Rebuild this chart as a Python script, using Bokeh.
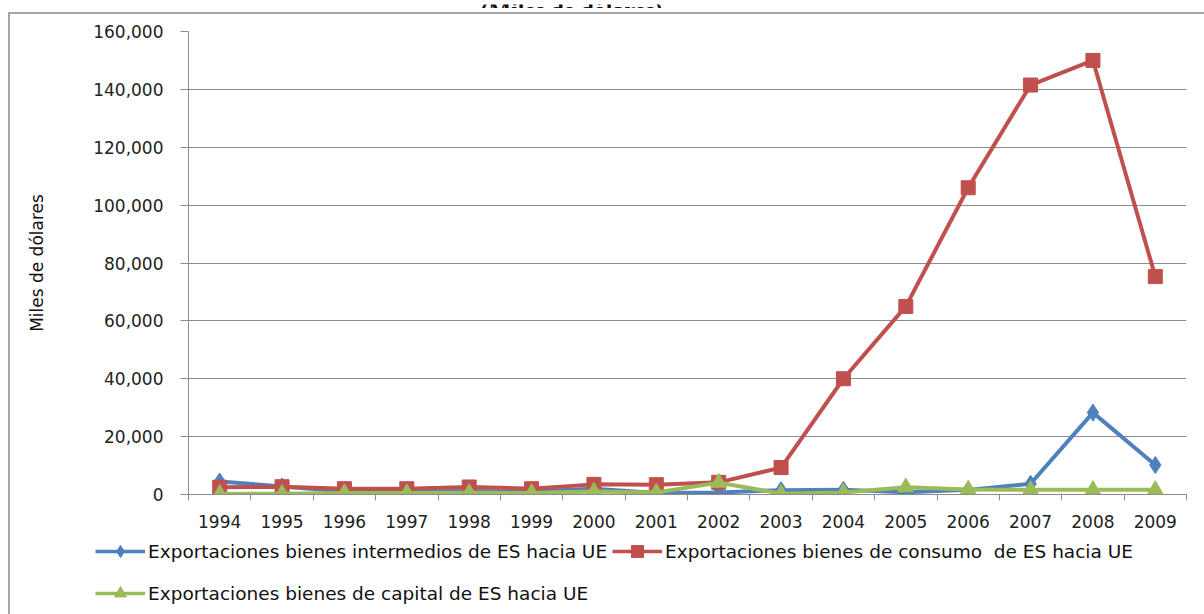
from bokeh.plotting import figure
from bokeh.layouts import column
from bokeh.models import (FixedTicker, NumeralTickFormatter, Legend, LegendItem,
                          Range1d, Label, InlineStyleSheet)
from bokeh.embed import file_html
from bokeh.resources import INLINE

years = list(range(1994, 2010))

intermedios = [4500, 2800, 1000, 1000, 1200, 1000, 2000, 500,
               700, 1500, 1600, 800, 1600, 3700, 28300, 10200]
consumo = [2500, 2700, 2000, 2000, 2600, 2000, 3500, 3400,
           4200, 9300, 40000, 65000, 106000, 141500, 150000, 75300]
capital = [200, 300, 500, 500, 600, 500, 1000, 700,
           4100, 300, 700, 2500, 1700, 1600, 1600, 1600]

y_ticks = [0, 20000, 40000, 60000, 80000, 100000, 120000, 140000, 160000]
legend_labels = [
    "Exportaciones bienes intermedios de ES hacia UE",
    "Exportaciones bienes de consumo  de ES hacia UE",
    "Exportaciones bienes de capital de ES hacia UE",
]
y_title = "Miles de dólares"
subtitle = "(Miles de dólares)"

BLUE, RED, GREEN = "#4F81BD", "#C0504D", "#9BBB59"
FONT = "DejaVu Sans"
GRID = "#8c8c8c"


def bare(height):
    """A figure whose frame fills the whole canvas, without axes or grids."""
    f = figure(width=1204, height=height, output_backend="svg", toolbar_location=None,
               x_range=Range1d(0, 1), y_range=Range1d(0, 1),
               x_axis_location=None, y_axis_location=None,
               min_border=0, min_border_left=0, min_border_right=0,
               min_border_top=0, min_border_bottom=0, frame_align=False)
    f.outline_line_color = None
    f.xgrid.visible = False
    f.ygrid.visible = False
    return f


# strip on top: subtitle, cut off at the page edge
top = bare(8)
top.add_layout(Label(x=480, y=3, x_units="screen", y_units="screen", text=subtitle,
                     text_align="left", text_baseline="alphabetic",
                     text_font="Liberation Serif", text_font_style="bold",
                     text_font_size="24px", text_color="#111111"))

# main chart
p = figure(width=1204, height=526, output_backend="svg", toolbar_location=None,
           x_range=Range1d(1993.5, 2009.5), y_range=Range1d(0, 160000),
           min_border_left=188, min_border_right=18,
           min_border_top=23, min_border_bottom=40, frame_align=False)
p.outline_line_color = None

# x axis: labels at year centres, ticks on category boundaries
p.xaxis.ticker = FixedTicker(ticks=years,
                             minor_ticks=[y - 0.5 for y in years] + [years[-1] + 0.5])
p.xaxis.major_tick_line_color = None
p.xaxis.minor_tick_line_color = GRID
p.xaxis.minor_tick_out = 6
p.xaxis.minor_tick_in = 0
p.xaxis.axis_line_color = GRID
p.xaxis.major_label_text_font = FONT
p.xaxis.major_label_text_font_size = "17px"
p.xaxis.major_label_text_color = "#222222"
p.xaxis.major_label_standoff = 14
p.xgrid.grid_line_color = None

p.yaxis.ticker = FixedTicker(ticks=y_ticks, minor_ticks=[])
p.yaxis.formatter = NumeralTickFormatter(format="0,0")
p.yaxis.major_tick_out = 8
p.yaxis.major_tick_in = 0
p.yaxis.major_tick_line_color = GRID
p.yaxis.axis_line_color = GRID
p.yaxis.major_label_text_font = FONT
p.yaxis.major_label_text_font_size = "17px"
p.yaxis.major_label_text_color = "#222222"
p.yaxis.major_label_standoff = 17
p.yaxis.axis_label = y_title
p.yaxis.axis_label_text_font = FONT
p.yaxis.axis_label_text_font_size = "17px"
p.yaxis.axis_label_text_font_style = "normal"
p.yaxis.axis_label_text_color = "#111111"
p.yaxis.axis_label_standoff = 43
p.ygrid.grid_line_color = GRID
p.ygrid.grid_line_width = 1.2

series = [(intermedios, BLUE, "diamond", 17),
          (consumo, RED, "square", 14),
          (capital, GREEN, "triangle", 16)]
for vals, col, mk, sz in series:
    p.line(years, vals, color=col, line_width=4)
    p.scatter(years, vals, marker=mk, size=sz, color=col)

# legend strip below the chart
leg = bare(80)
items = []
for (vals, col, mk, sz), label in zip(series, legend_labels):
    r_line = leg.line([-1, -2], [-1, -2], color=col, line_width=3.5)
    r_mark = leg.scatter([-1], [-1], marker=mk, size=sz, color=col)
    items.append(LegendItem(label=label, renderers=[r_line, r_mark]))


def make_legend(its, loc):
    return Legend(items=its, location=loc, orientation="horizontal",
                  glyph_width=50, glyph_height=30, label_standoff=3, spacing=5,
                  padding=0, margin=0, border_line_color=None,
                  background_fill_alpha=0, label_text_font=FONT,
                  label_text_font_size="18.5px", label_text_color="#111111",
                  label_height=30)


leg.add_layout(make_legend(items[:2], (95, 48)), "center")
leg.add_layout(make_legend(items[2:], (95, 6)), "center")

# chart-area border (left and top edges are the visible ones)
frame_css = InlineStyleSheet(css="""
:host { position: relative; }
:host::after {
  content: ""; position: absolute; left: 8px; top: 12px; right: 0; bottom: 0;
  border-left: 2px solid #a6a6a6; border-top: 2px solid #a6a6a6;
  pointer-events: none; z-index: 10;
}
""")

page = column(top, p, leg, spacing=0, stylesheets=[frame_css])
open("out.html", "w").write(file_html(page, INLINE))
